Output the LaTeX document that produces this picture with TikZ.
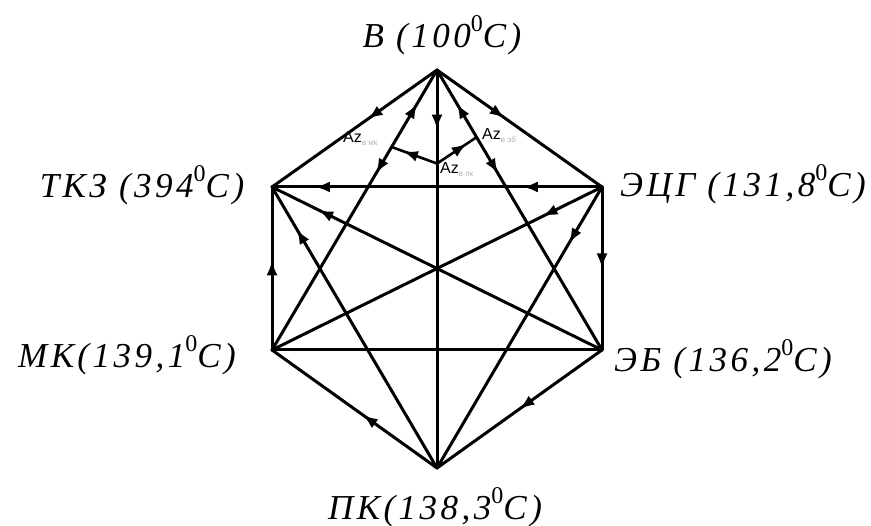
\documentclass[tikz,border=0pt]{standalone}
\usepackage{fontspec}
\setmainfont{Liberation Serif}
\newfontfamily\azfont{Liberation Sans}
\newfontfamily\lblfont[LetterSpace=10]{Liberation Serif}
\usetikzlibrary{arrows.meta,decorations.markings,calc}
\tikzset{
  edge/.style={line width=3pt, line join=round, line cap=round},
  azedge/.style={line width=2.6pt, line join=round, line cap=round},
  fwd/.style={postaction={decorate,decoration={markings,mark=at position #1 with {\arrow{Latex[length=15pt,width=11pt]}}}}},
  bwd/.style={postaction={decorate,decoration={markings,mark=at position #1 with {\arrowreversed{Latex[length=15pt,width=11pt]}}}}},
  vlabel/.style={font=\lblfont\fontsize{35}{40}\selectfont\itshape, inner sep=0pt, anchor=base},
  azlabel/.style={font=\azfont\fontsize{16}{18}\selectfont, inner sep=0pt, anchor=base west},
}
\newcommand{\azsub}[1]{\textsubscript{\color{black!30}\fontsize{8}{9}\selectfont #1}}
\newcommand{\dg}{\raisebox{1.05ex}{\fontsize{24}{24}\selectfont\upshape 0}}
\begin{document}
\begin{tikzpicture}[x=1pt,y=-1pt]
\useasboundingbox (0,0) rectangle (871,526);
% vertices
\coordinate (V)   at (437,70);
\coordinate (TKZ) at (272,187);
\coordinate (ECG) at (602,187);
\coordinate (MK)  at (272,350);
\coordinate (EB)  at (602,350);
\coordinate (PK)  at (437,468);
% labels
\node[vlabel] (lV)   at (442,48)  {В (100\dg С)};
\node[vlabel] (lTKZ) at (142,198) {ТКЗ (394\dg С)};
\node[vlabel] (lECG) at (743,197) {ЭЦГ (131,8\dg С)};
\node[vlabel] (lMK)  at (127,368) {МК(139,1\dg С)};
\node[vlabel] (lEB)  at (723,372) {ЭБ (136,2\dg С)};
\node[vlabel] (lPK)  at (435,520) {ПК(138,3\dg С)};
% perimeter
\draw[edge, fwd=0.42] (V) -- (TKZ);
\draw[edge, fwd=0.41] (V) -- (ECG);
\draw[edge, fwd=0.55] (MK) -- (TKZ);
\draw[edge, fwd=0.50] (ECG) -- (EB);
\draw[edge, fwd=0.45] (PK) -- (MK);
\draw[edge, fwd=0.50] (EB) -- (PK);
% short diagonals
\draw[edge, fwd=0.37, bwd=0.12] (V) -- (MK);
\draw[edge, fwd=0.37, bwd=0.12] (V) -- (EB);
\draw[edge, fwd=0.24, fwd=0.87] (ECG) -- (TKZ);
\draw[edge] (MK) -- (EB);
\draw[edge, fwd=0.85] (PK) -- (TKZ);
\draw[edge, fwd=0.20] (ECG) -- (PK);
% long diagonals
\draw[edge, fwd=0.15] (V) -- (PK);
\draw[edge, fwd=0.86] (EB) -- (TKZ);
\draw[edge, fwd=0.18] (ECG) -- (MK);
% azimuth construction
\coordinate (A0) at ($(V)!0.235!(PK)$);
\coordinate (A1) at ($(V)!0.275!(MK)$);
\coordinate (A2) at ($(V)!0.24!(EB)$);
\draw[azedge, fwd=0.75] (A0) -- (A1);
\draw[azedge, fwd=0.75] (A0) -- (A2);
\node[azlabel] (az1) at (343,143) {Az\azsub{в мк}};
\node[azlabel] (az2) at (482,140) {Az\azsub{в эб}};
\node[azlabel] (az3) at (440,174) {Az\azsub{в пк}};
\end{tikzpicture}
\end{document}
